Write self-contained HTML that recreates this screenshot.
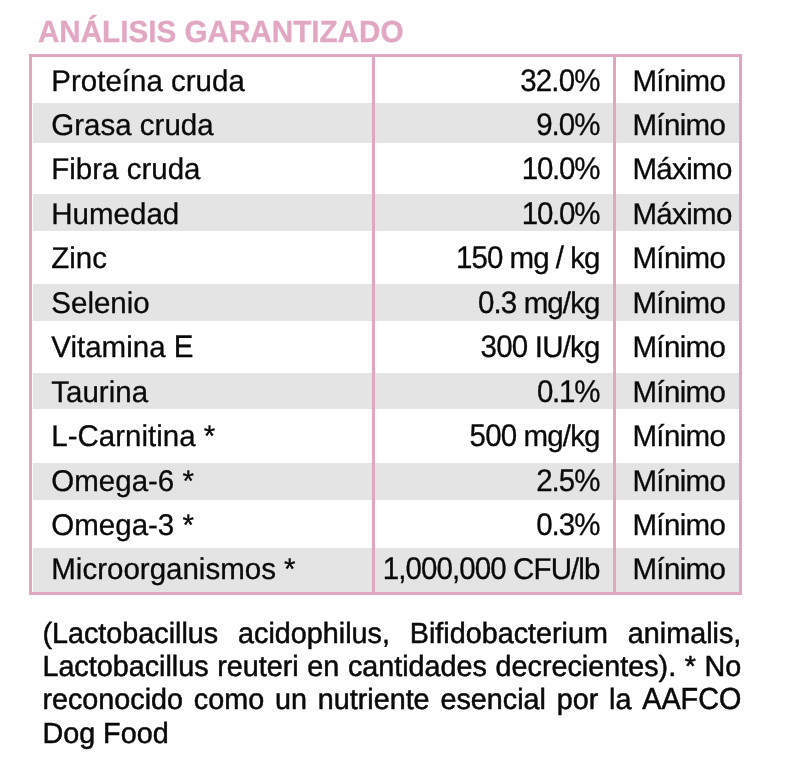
<!DOCTYPE html>
<html lang="es">
<head>
<meta charset="utf-8">
<title>Análisis garantizado</title>
<style>
html,body{margin:0;padding:0;background:#fff;}
body{width:806px;height:778px;position:relative;overflow:hidden;font-family:"Liberation Sans",Arial,Helvetica,sans-serif;color:#0a0a0a;text-rendering:geometricPrecision;}
b{font-weight:inherit;display:inline-block;transform:scaleY(1.044);}
.title{position:absolute;left:37.9px;top:13px;font-size:29.65px;line-height:40px;font-weight:bold;color:#e2a8c3;-webkit-text-stroke:0.3px #e2a8c3;white-space:nowrap;transform:scaleY(1.03);transform-origin:0 30.28px;}
.box{position:absolute;left:29.25px;top:54px;width:707px;height:534.85px;border:3px solid #e0a7c1;}
.band{position:absolute;left:33.2px;width:705.8px;background:#e4e4e5;}
.vl{position:absolute;top:57px;height:535px;width:3px;background:#e0a7c1;}
.row{-webkit-text-stroke:0.3px #0a0a0a;position:absolute;left:0;width:806px;height:40px;line-height:40px;font-size:29.5px;white-space:nowrap;}
.row span{position:absolute;top:0;}
.row b{transform-origin:0 30.23px;}
.c1{left:51.3px;transform:scaleY(1.015);transform-origin:0 30.23px;}
.c2{right:205.6px;text-align:right;transform:scaleY(1.015);transform-origin:100% 30.23px;}
.c3{left:632.4px;letter-spacing:-0.64px;transform:scaleY(1.015);transform-origin:0 30.23px;}
.foot{-webkit-text-stroke:0.5px #0a0a0a;position:absolute;left:42.4px;top:0;width:698.9px;font-size:28.75px;line-height:32px;margin:0;}
.foot .fl{position:absolute;left:0;width:100%;height:32px;transform:scaleY(1.015);transform-origin:0 25.97px;text-align:justify;text-align-last:justify;white-space:nowrap;}
.foot .fl.last{text-align-last:left;}
.foot b{transform-origin:0 25.97px;}

</style>
</head>
<body>
<div class="title">ANÁLISIS GARANTIZADO</div>

<div class="band" style="top:103px;height:40px"></div>
<div class="band" style="top:194px;height:36.7px"></div>
<div class="band" style="top:283.5px;height:37px"></div>
<div class="band" style="top:372.9px;height:36.3px"></div>
<div class="band" style="top:463.2px;height:36.8px"></div>
<div class="band" style="top:547.8px;height:44.2px"></div>
<div class="vl" style="left:371.8px;width:3.2px"></div>
<div class="vl" style="left:612.9px"></div>
<div class="box"></div>

<div class="row" style="top:62.00px"><span class="c1">Proteína cruda</span><span class="c2" style="letter-spacing:-0.9px;margin-right:0.9px"><b>32.0%</b></span><span class="c3">Mínimo</span></div>
<div class="row" style="top:106.00px"><span class="c1">Grasa cruda</span><span class="c2" style="letter-spacing:-1.0px;margin-right:1.0px"><b>9.0%</b></span><span class="c3">Mínimo</span></div>
<div class="row" style="top:150.00px"><span class="c1">Fibra cruda</span><span class="c2" style="letter-spacing:-1.25px;margin-right:1.25px"><b>10.0%</b></span><span class="c3">Máximo</span></div>
<div class="row" style="top:195.00px"><span class="c1">Humedad</span><span class="c2" style="letter-spacing:-1.25px;margin-right:1.25px"><b>10.0%</b></span><span class="c3">Máximo</span></div>
<div class="row" style="top:239.00px"><span class="c1">Zinc</span><span class="c2" style="letter-spacing:-0.98px;margin-right:0.98px"><b>150</b> mg <b>/</b> kg</span><span class="c3">Mínimo</span></div>
<div class="row" style="top:284.00px"><span class="c1">Selenio</span><span class="c2" style="letter-spacing:-0.9px;margin-right:0.9px"><b>0.3</b> mg/kg</span><span class="c3">Mínimo</span></div>
<div class="row" style="top:328.00px"><span class="c1">Vitamina <b>E</b></span><span class="c2" style="letter-spacing:-0.8px;margin-right:0.8px"><b>300</b> IU/kg</span><span class="c3">Mínimo</span></div>
<div class="row" style="top:373.00px"><span class="c1">Taurina</span><span class="c2" style="letter-spacing:-1.25px;margin-right:1.25px"><b>0.1%</b></span><span class="c3">Mínimo</span></div>
<div class="row" style="top:417.00px"><span class="c1">L-Carnitina *</span><span class="c2" style="letter-spacing:-0.87px;margin-right:0.87px"><b>500</b> mg/kg</span><span class="c3">Mínimo</span></div>
<div class="row" style="top:462.00px"><span class="c1">Omega-6 *</span><span class="c2" style="letter-spacing:-1.0px;margin-right:1.0px"><b>2.5%</b></span><span class="c3">Mínimo</span></div>
<div class="row" style="top:506.00px"><span class="c1">Omega-3 *</span><span class="c2" style="letter-spacing:-1.0px;margin-right:1.0px"><b>0.3%</b></span><span class="c3">Mínimo</span></div>
<div class="row" style="top:550.00px"><span class="c1">Microorganismos *</span><span class="c2" style="letter-spacing:-0.9px;margin-right:0.9px"><b>1,000,000</b> CFU/lb</span><span class="c3">Mínimo</span></div>

<div class="foot">
<div class="fl" style="top:618.00px">(Lactobacillus acidophilus, Bifidobacterium animalis,</div>
<div class="fl" style="top:651.00px">Lactobacillus reuteri en cantidades decrecientes). * No</div>
<div class="fl" style="top:684.00px">reconocido como un nutriente esencial por la <b>AAFCO</b></div>
<div class="fl last" style="top:718.00px">Dog Food</div>
</div>
</body>
</html>
